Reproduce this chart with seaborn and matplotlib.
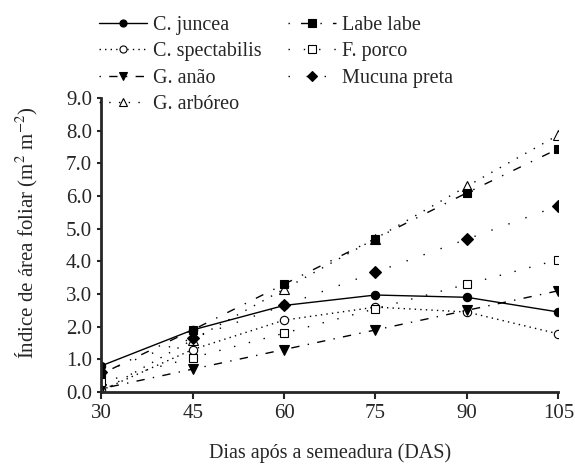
import matplotlib
matplotlib.use("Agg")
import matplotlib.pyplot as plt
import seaborn as sns
import pandas as pd

days = [30, 45, 60, 75, 90, 105]
c_juncea = [0.80, 1.90, 2.65, 2.97, 2.90, 2.45]
c_spectabilis = [0.05, 1.30, 2.20, 2.60, 2.45, 1.78]
g_anao = [0.10, 0.70, 1.30, 1.90, 2.50, 3.10]
g_arboreo = [0.02, 1.60, 3.15, 4.70, 6.30, 7.87]
labe_labe = [0.55, 1.90, 3.30, 4.70, 6.10, 7.45]
f_porco = [0.30, 1.05, 1.80, 2.55, 3.30, 4.05]
mucuna = [0.60, 1.65, 2.65, 3.67, 4.68, 5.70]

series = {
    "C. juncea": c_juncea,
    "C. spectabilis": c_spectabilis,
    "G. anão": g_anao,
    "G. arbóreo": g_arboreo,
    "Labe labe": labe_labe,
    "F. porco": f_porco,
    "Mucuna preta": mucuna,
}
styles = {
    "C. juncea": dict(marker="o", ls="-", mfc="black", ms=6),
    "C. spectabilis": dict(marker="o", ls=(0, (1, 3)), mfc="white", ms=6),
    "G. anão": dict(marker="v", ls=(0, (1, 6, 6, 6)), mfc="black", ms=7),
    "G. arbóreo": dict(marker="^", ls=(0, (1, 6)), mfc="white", ms=7),
    "Labe labe": dict(marker="s", ls=(0, (1, 8, 6, 8)), mfc="black", ms=6),
    "F. porco": dict(marker="s", ls=(0, (1, 10)), mfc="white", ms=6),
    "Mucuna preta": dict(marker="D", ls=(0, (1, 12)), mfc="black", ms=6),
}

rows = []
for name, vals in series.items():
    for d, v in zip(days, vals):
        rows.append({"Dias": d, "IAF": v, "Espécie": name})
df = pd.DataFrame(rows)

sns.set_style("ticks")
plt.rcParams["font.family"] = ["Liberation Serif", "DejaVu Serif"]
plt.rcParams["mathtext.fontset"] = "stix"

fig = plt.figure(figsize=(5.75, 4.65), dpi=100)
ax = fig.add_axes([0.176, 0.157, 0.795, 0.632])

for name in series:
    st = styles[name]
    sub = df[df["Espécie"] == name]
    sns.lineplot(data=sub, x="Dias", y="IAF", ax=ax, color="black",
                 marker=st["marker"], linestyle=st["ls"], markersize=st["ms"],
                 markerfacecolor=st["mfc"], markeredgecolor="black",
                 markeredgewidth=0.8, linewidth=1.0, label=name, legend=False)

ax.set_xlim(30, 105)
ax.set_ylim(0, 9)
ax.set_xticks(days)
ax.set_xticklabels([str(d) for d in days])
yt = [i * 1.0 for i in range(10)]
ax.set_yticks(yt)
ax.set_yticklabels([f"{v:.1f}" for v in yt])
ax.tick_params(labelsize=15, width=1.5, direction="out")
ax.tick_params(axis="x", length=5)
ax.tick_params(axis="y", length=3)
ax.spines["top"].set_visible(False)
ax.spines["right"].set_visible(False)
ax.spines["left"].set_linewidth(2)
ax.spines["bottom"].set_linewidth(2)
ax.set_xlabel("Dias após a semeadura (DAS)", fontsize=14.5)
ax.set_ylabel("Índice de área foliar (m$^2$ m$^{-2}$)", fontsize=15)
ax.xaxis.set_label_coords(0.5, -0.175)
ax.yaxis.set_label_coords(-0.133, 0.54)

handles, labels = ax.get_legend_handles_labels()
fig.legend(handles, labels, ncol=2, loc="upper left", bbox_to_anchor=(0.14, 1.005),
           frameon=False, fontsize=14.5, handlelength=2.4, labelspacing=0.36,
           columnspacing=1.3, handletextpad=0.3, markerscale=0.85)

fig.savefig("out.png", dpi=100)
